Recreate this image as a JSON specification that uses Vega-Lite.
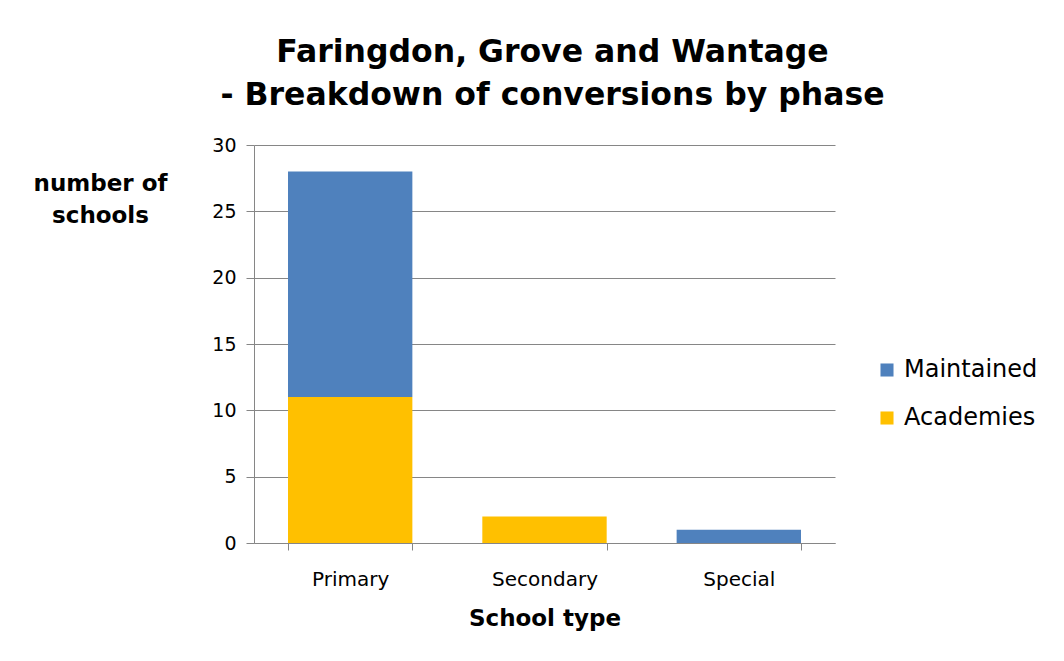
{
  "$schema": "https://vega.github.io/schema/vega-lite/v6.json",
  "autosize": {"type": "none"},
  "padding": {"left": 254, "top": 145, "right": 229, "bottom": 118},
  "width": 581,
  "height": 398,
  "background": "white",
  "title": {
    "text": ["Faringdon, Grove and Wantage", "- Breakdown of conversions by phase"],
    "font": "DejaVu Sans",
    "fontSize": 31.5,
    "fontWeight": "bold",
    "color": "black",
    "lineHeight": 43,
    "anchor": "middle",
    "dx": 8,
    "offset": 25
  },
  "data": {
    "values": [
      {"type": "Primary", "series": "Academies", "count": 11},
      {"type": "Primary", "series": "Maintained", "count": 17},
      {"type": "Secondary", "series": "Academies", "count": 2},
      {"type": "Special", "series": "Maintained", "count": 1}
    ]
  },
  "mark": {"type": "bar"},
  "encoding": {
    "x": {
      "field": "type",
      "type": "nominal",
      "sort": ["Primary", "Secondary", "Special"],
      "scale": {"paddingInner": 0.36, "paddingOuter": 0.175},
      "axis": {
        "title": "School type",
        "titleFont": "DejaVu Sans",
        "titleFontSize": 23,
        "titleFontWeight": "bold",
        "titleColor": "black",
        "titlePadding": 18,
        "labelAngle": 0,
        "labelFont": "DejaVu Sans",
        "labelFontSize": 20,
        "labelColor": "black",
        "labelPadding": 19,
        "tickBand": "extent",
        "tickSize": 7,
        "tickColor": "#868686",
        "domainColor": "#868686",
        "grid": false
      }
    },
    "y": {
      "field": "count",
      "type": "quantitative",
      "stack": "zero",
      "scale": {"domain": [0, 30], "nice": false},
      "axis": {
        "values": [0, 5, 10, 15, 20, 25, 30],
        "title": ["number of", "schools"],
        "titleFont": "DejaVu Sans",
        "titleFontSize": 23,
        "titleFontWeight": "bold",
        "titleColor": "black",
        "titleAngle": 0,
        "titleAlign": "center",
        "titleBaseline": "alphabetic",
        "titleLineHeight": 32,
        "titleX": -154,
        "titleY": 45,
        "labelFont": "DejaVu Sans",
        "labelFontSize": 19,
        "labelColor": "black",
        "labelPadding": 10,
        "tickSize": 8,
        "tickColor": "#868686",
        "domainColor": "#868686",
        "grid": true,
        "gridColor": "#868686"
      }
    },
    "color": {
      "field": "series",
      "type": "nominal",
      "scale": {"domain": ["Maintained", "Academies"], "range": ["#4F81BD", "#FFC000"]},
      "legend": {
        "title": null,
        "orient": "none",
        "legendX": 621,
        "legendY": 213,
        "symbolType": "square",
        "symbolSize": 170,
        "symbolStrokeWidth": 0,
        "labelFont": "DejaVu Sans",
        "labelFontSize": 24,
        "labelColor": "black",
        "labelOffset": 5,
        "rowPadding": 24
      }
    },
    "order": {"field": "series", "sort": "ascending"}
  },
  "config": {
    "view": {"stroke": null}
  }
}
